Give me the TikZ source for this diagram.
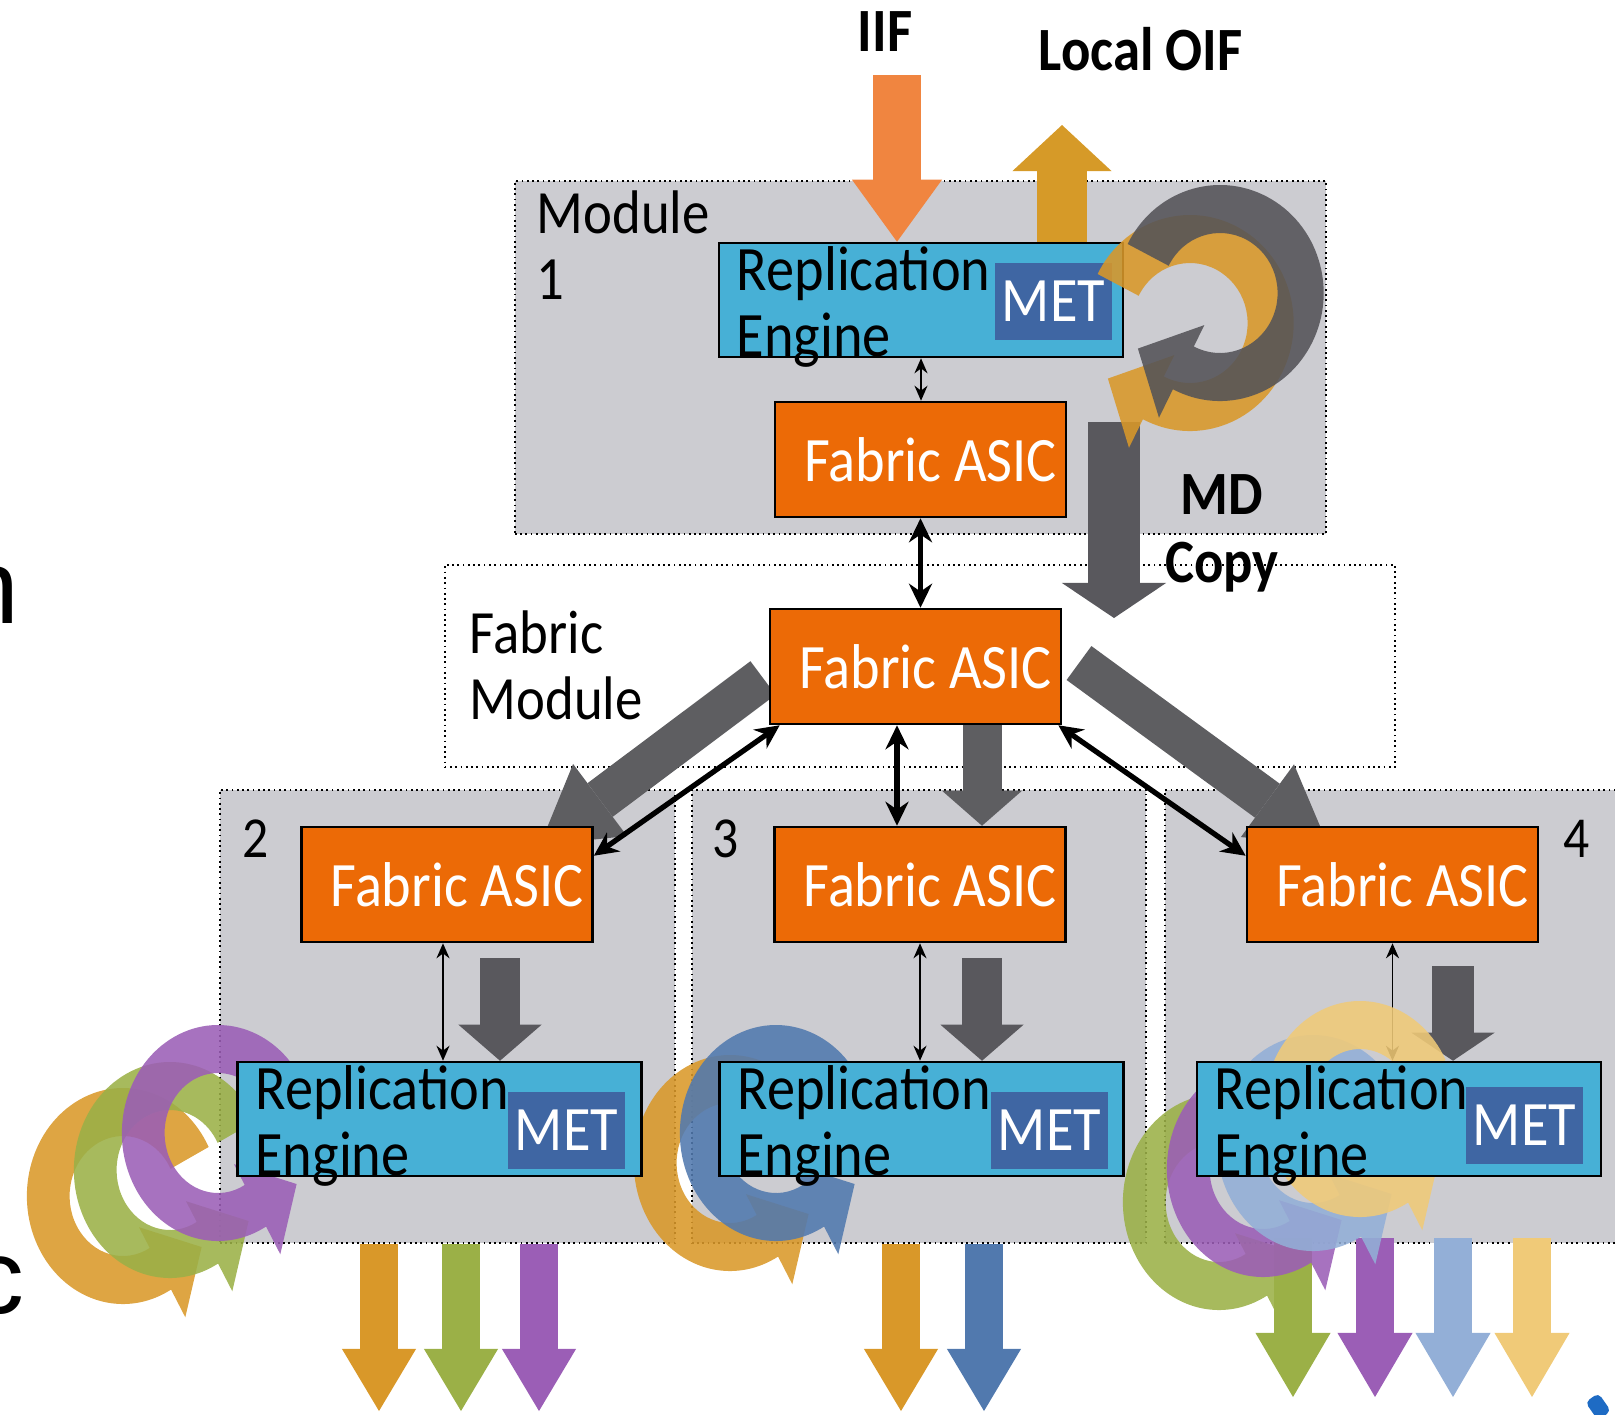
\documentclass[tikz,border=0pt]{standalone}
\usepackage{fontspec}
\setmainfont{Carlito}[FakeStretch=0.89]
\newfontfamily\fragfont{Liberation Sans}
\usetikzlibrary{arrows.meta}

\pgfdeclarelayer{frames}
\pgfdeclarelayer{flows}
\pgfdeclarelayer{loops}
\pgfdeclarelayer{front}
\pgfsetlayers{frames,flows,loops,main,front}

\definecolor{asicorange}{HTML}{EC6A06}
\definecolor{reblue}{HTML}{47B0D6}
\definecolor{metblue}{HTML}{3F66A3}
\definecolor{modgray}{HTML}{CCCCD1}
\definecolor{flowdark}{HTML}{59585D}
\definecolor{flowgray}{HTML}{5E5E61}
\definecolor{iiforange}{HTML}{F08540}
\definecolor{oifgold}{HTML}{D69A28}
\definecolor{cgold}{HTML}{D99829}
\definecolor{cgreen}{HTML}{9BB047}
\definecolor{cpurple}{HTML}{9B5EB6}
\definecolor{cblue}{HTML}{5179AE}
\definecolor{clightblue}{HTML}{93AFD7}
\definecolor{cyellow}{HTML}{F0CA78}
\definecolor{loopdark}{HTML}{545358}
\definecolor{fragblue}{HTML}{1E6BC4}

\newcommand{\boxfont}{\fontsize{18pt}{18.9pt}\selectfont}
\newcommand{\metfont}{\fontsize{18pt}{20pt}\selectfont}
\newcommand{\tagfont}{\fontsize{17.5pt}{18.6pt}\selectfont}
\newcommand{\headfont}{\bfseries\fontsize{17.5pt}{19.1pt}\selectfont}

% circular arrow: centre x, centre y, start angle, base angle, tip angle, colour, x scale
\newcommand{\looparrow}[7]{%
  \begin{scope}[shift={(#1,#2)}, xscale=#7]
    \fill[#6, fill opacity=0.88] (#3:108) arc[start angle=#3, end angle=#4, radius=108]
      -- (#4:140) -- (#5:102) -- (#4:36) -- (#4:60)
      arc[start angle=#4, end angle=#3, radius=60] -- cycle;
  \end{scope}}

\begin{document}
\begin{tikzpicture}[x=0.01cm, y=-0.01cm,
    modframe/.style={draw, densely dotted, line width=0.5pt, fill=modgray, inner sep=0},
    asic/.style={draw, line width=0.7pt, fill=asicorange, text=white, inner sep=0,
      minimum width=2.91cm, minimum height=1.15cm, font=\boxfont},
    engine/.style={draw, line width=0.7pt, fill=reblue, inner xsep=0.18cm, inner ysep=0,
      text width=3.68cm, text height=0.47cm, text depth=0.67cm, align=left, font=\boxfont},
    met/.style={fill=metblue, text=white, inner sep=0, minimum width=1.17cm,
      minimum height=0.77cm, font=\metfont},
    blockflow/.style n args={3}{line width=#1, line cap=butt,
      -{Triangle[length=#3, width=#2, line width=0pt]}},
    thinlink/.style={line width=0.55pt,
      {Stealth[length=1.5mm, width=1.3mm]}-{Stealth[length=1.5mm, width=1.3mm]}},
    thicklink/.style={line width=1.5pt,
      {Stealth[length=2.4mm, width=2.3mm]}-{Stealth[length=2.4mm, width=2.3mm]}},
    tag/.style={inner sep=0, font=\tagfont, align=left},
    heading/.style={inner sep=0, font=\headfont, align=center},
  ]
  \useasboundingbox (0,0) rectangle (1615,1414);

  % module frames
  \begin{pgfonlayer}{frames}
    \node[modframe, minimum width=8.11cm, minimum height=3.53cm] (mod1) at (920.5,357.5) {};
    \node[modframe, fill=white, minimum width=9.50cm, minimum height=2.02cm] (fabmod) at (920,666) {};
    \node[modframe, minimum width=4.55cm, minimum height=4.53cm] (mod2) at (447.5,1016.5) {};
    \node[modframe, minimum width=4.54cm, minimum height=4.53cm] (mod3) at (919,1016.5) {};
    \node[modframe, minimum width=4.60cm, minimum height=4.53cm] (mod4) at (1395,1016.5) {};
  \end{pgfonlayer}

  \node[engine] (re1) at (921,300) {Replication\\Engine};
  \node[met] (met1) at (1053.5,301.5) {MET};
  \node[asic] (asic1) at (920.5,459.5) {\hspace*{2mm}Fabric ASIC};
  \node[asic] (hub) at (915.5,666.5) {\hspace*{2mm}Fabric ASIC};
  \node[asic] (asic2) at (447,884.5) {\hspace*{2mm}Fabric ASIC};
  \node[asic] (asic3) at (920,884.5) {\hspace*{2mm}Fabric ASIC};
  \node[asic] (asic4) at (1392.5,884.5) {\hspace*{2mm}Fabric ASIC};
  \node[engine] (re2) at (439.5,1119) {Replication\\Engine};
  \node[met] (met2) at (566.5,1130.5) {MET};
  \node[engine] (re3) at (921.5,1119) {Replication\\Engine};
  \node[met] (met3) at (1049.5,1130.5) {MET};
  \node[engine] (re4) at (1399,1119) {Replication\\Engine};
  \node[met] (met4) at (1524.5,1125.5) {MET};

  \node[tag, anchor=base west] (mod1tag) at (536,299) {Module\\1};
  \node[tag, anchor=base west] (fabtag) at (469,719) {Fabric\\Module};
  \node[tag, font=\fontsize{16.5pt}{18pt}\selectfont, anchor=base west] (mod2tag) at (242,857) {2};
  \node[tag, font=\fontsize{16.5pt}{18pt}\selectfont, anchor=base west] (mod3tag) at (712,857) {3};
  \node[tag, font=\fontsize{16.5pt}{18pt}\selectfont, anchor=base west] (mod4tag) at (1563,857) {4};
  \node[heading, anchor=base] (iiftag) at (885,51) {IIF};
  \node[heading, anchor=base west] (oiftag) at (1038,70) {Local OIF};

  % cut-off slide text at the left edge
  \node[font=\fragfont\fontsize{30pt}{36pt}\selectfont, inner sep=0, anchor=base east] (fragn) at (20,623) {n};
  \node[font=\fragfont\fontsize{30pt}{36pt}\selectfont, inner sep=0, anchor=base east] (fragc) at (25,1313) {c};
  \fill[fragblue, rounded corners=0.5mm, rotate around={35:(1597,1405)}] (1589,1396) rectangle (1605,1418);

  \begin{pgfonlayer}{flows}
    \coordinate (iifin) at (897,75);
    \coordinate (oifout) at (1062,125);
    \coordinate (mdtop) at (1114,422);
    \coordinate (mdend) at (1114,618);
    \coordinate (leftfrom) at (763,678);
    \coordinate (leftto) at (540,845);
    \coordinate (rightfrom) at (1079,663);
    \coordinate (rightto) at (1328,845);
    \coordinate (hubdown) at (982,724);
    \coordinate (down2) at (500,958);
    \coordinate (down3) at (982,958);
    \coordinate (down4) at (1453,966);
    \draw[blockflow={4.7mm}{9mm}{6.2mm}, iiforange] (iifin) -- (iifin |- re1.north);
    \draw[blockflow={5mm}{9.9mm}{4.6mm}, oifgold] (oifout |- re1.north) -- (oifout);
    \draw[blockflow={5.1mm}{10.4mm}{3.5mm}, flowdark] (mdtop) -- (mdend);
    \draw[blockflow={4.2mm}{9mm}{7.5mm}, flowgray] (leftfrom) -- (leftto);
    \draw[blockflow={4.2mm}{9mm}{7.5mm}, flowgray] (rightfrom) -- (rightto);
    \draw[blockflow={3.9mm}{8mm}{3.5mm}, flowgray] (hubdown) -- (hubdown |- asic3.north);
    \draw[blockflow={4mm}{8.3mm}{3.6mm}, flowdark] (down2) -- (down2 |- re2.north);
    \draw[blockflow={4mm}{8.3mm}{3.6mm}, flowdark] (down3) -- (down3 |- re3.north);
    \draw[blockflow={4.2mm}{8.3mm}{2.8mm}, flowdark] (down4) -- (down4 |- re4.north);

    \draw[thinlink] (re1.south) -- (re1.south |- asic1.north);
    \draw[thicklink] (asic1.south) -- (asic1.south |- hub.north);
    \draw[thicklink] ([xshift=-1.85mm]hub.south) -- ([xshift=-1.85mm]hub.south |- asic3.north);
    \draw[thicklink] ([xshift=1.1mm]hub.south west) -- ([yshift=-3mm]asic2.north east);
    \draw[thicklink] ([xshift=-0.4mm]hub.south east) -- ([yshift=-3mm]asic4.north west);
    \draw[thinlink] ([xshift=-0.4mm]asic2.south) -- ([xshift=-0.4mm]asic2.south |- re2.north);
    \draw[thinlink] (asic3.south) -- (asic3.south |- re3.north);
    \draw[thinlink] (asic4.south) -- (asic4.south |- re4.north);

    % copies leaving the line cards
    \foreach \x/\c in {379/cgold, 461/cgreen, 539/cpurple, 901/cgold, 984/cblue} {
      \coordinate (out\x) at (\x,1244);
      \coordinate (end\x) at (\x,1411);
      \draw[blockflow={3.8mm}{7.4mm}{6.2mm}, \c] (out\x) -- (end\x);
    }
    \foreach \x/\c in {1293/cgreen, 1375/cpurple, 1453/clightblue, 1532/cyellow} {
      \coordinate (out\x) at (\x,1238);
      \coordinate (end\x) at (\x,1397);
      \draw[blockflow={3.8mm}{7.5mm}{6.4mm}, \c] (out\x) -- (end\x);
    }
  \end{pgfonlayer}

  % replication loops under the engines
  \begin{pgfonlayer}{loops}
    \looparrow{123}{1196}{-27}{-300}{-330}{cgold}{0.89}
    \looparrow{170}{1170}{-27}{-300}{-330}{cgreen}{0.89}
    \looparrow{218}{1133}{-27}{-300}{-330}{cpurple}{0.89}
    \looparrow{730}{1163}{-27}{-300}{-330}{cgold}{0.89}
    \looparrow{776}{1133}{-27}{-300}{-330}{cblue}{0.89}
    \looparrow{1219}{1202}{-27}{-300}{-330}{cgreen}{0.89}
    \looparrow{1263}{1169}{-27}{-300}{-330}{cpurple}{0.89}
    \looparrow{1313}{1143}{-27}{-300}{-330}{clightblue}{0.89}
    \looparrow{1360}{1109}{-27}{-300}{-330}{cyellow}{0.89}
  \end{pgfonlayer}

  \begin{pgfonlayer}{front}
    \looparrow{1190}{323}{-153}{117}{147}{cgold}{0.96}
    \looparrow{1220}{293}{-153}{117}{147}{loopdark}{0.96}
    \node[heading, anchor=base] (mdtag) at (1222,582) {MD\\Copy};
  \end{pgfonlayer}
\end{tikzpicture}
\end{document}
